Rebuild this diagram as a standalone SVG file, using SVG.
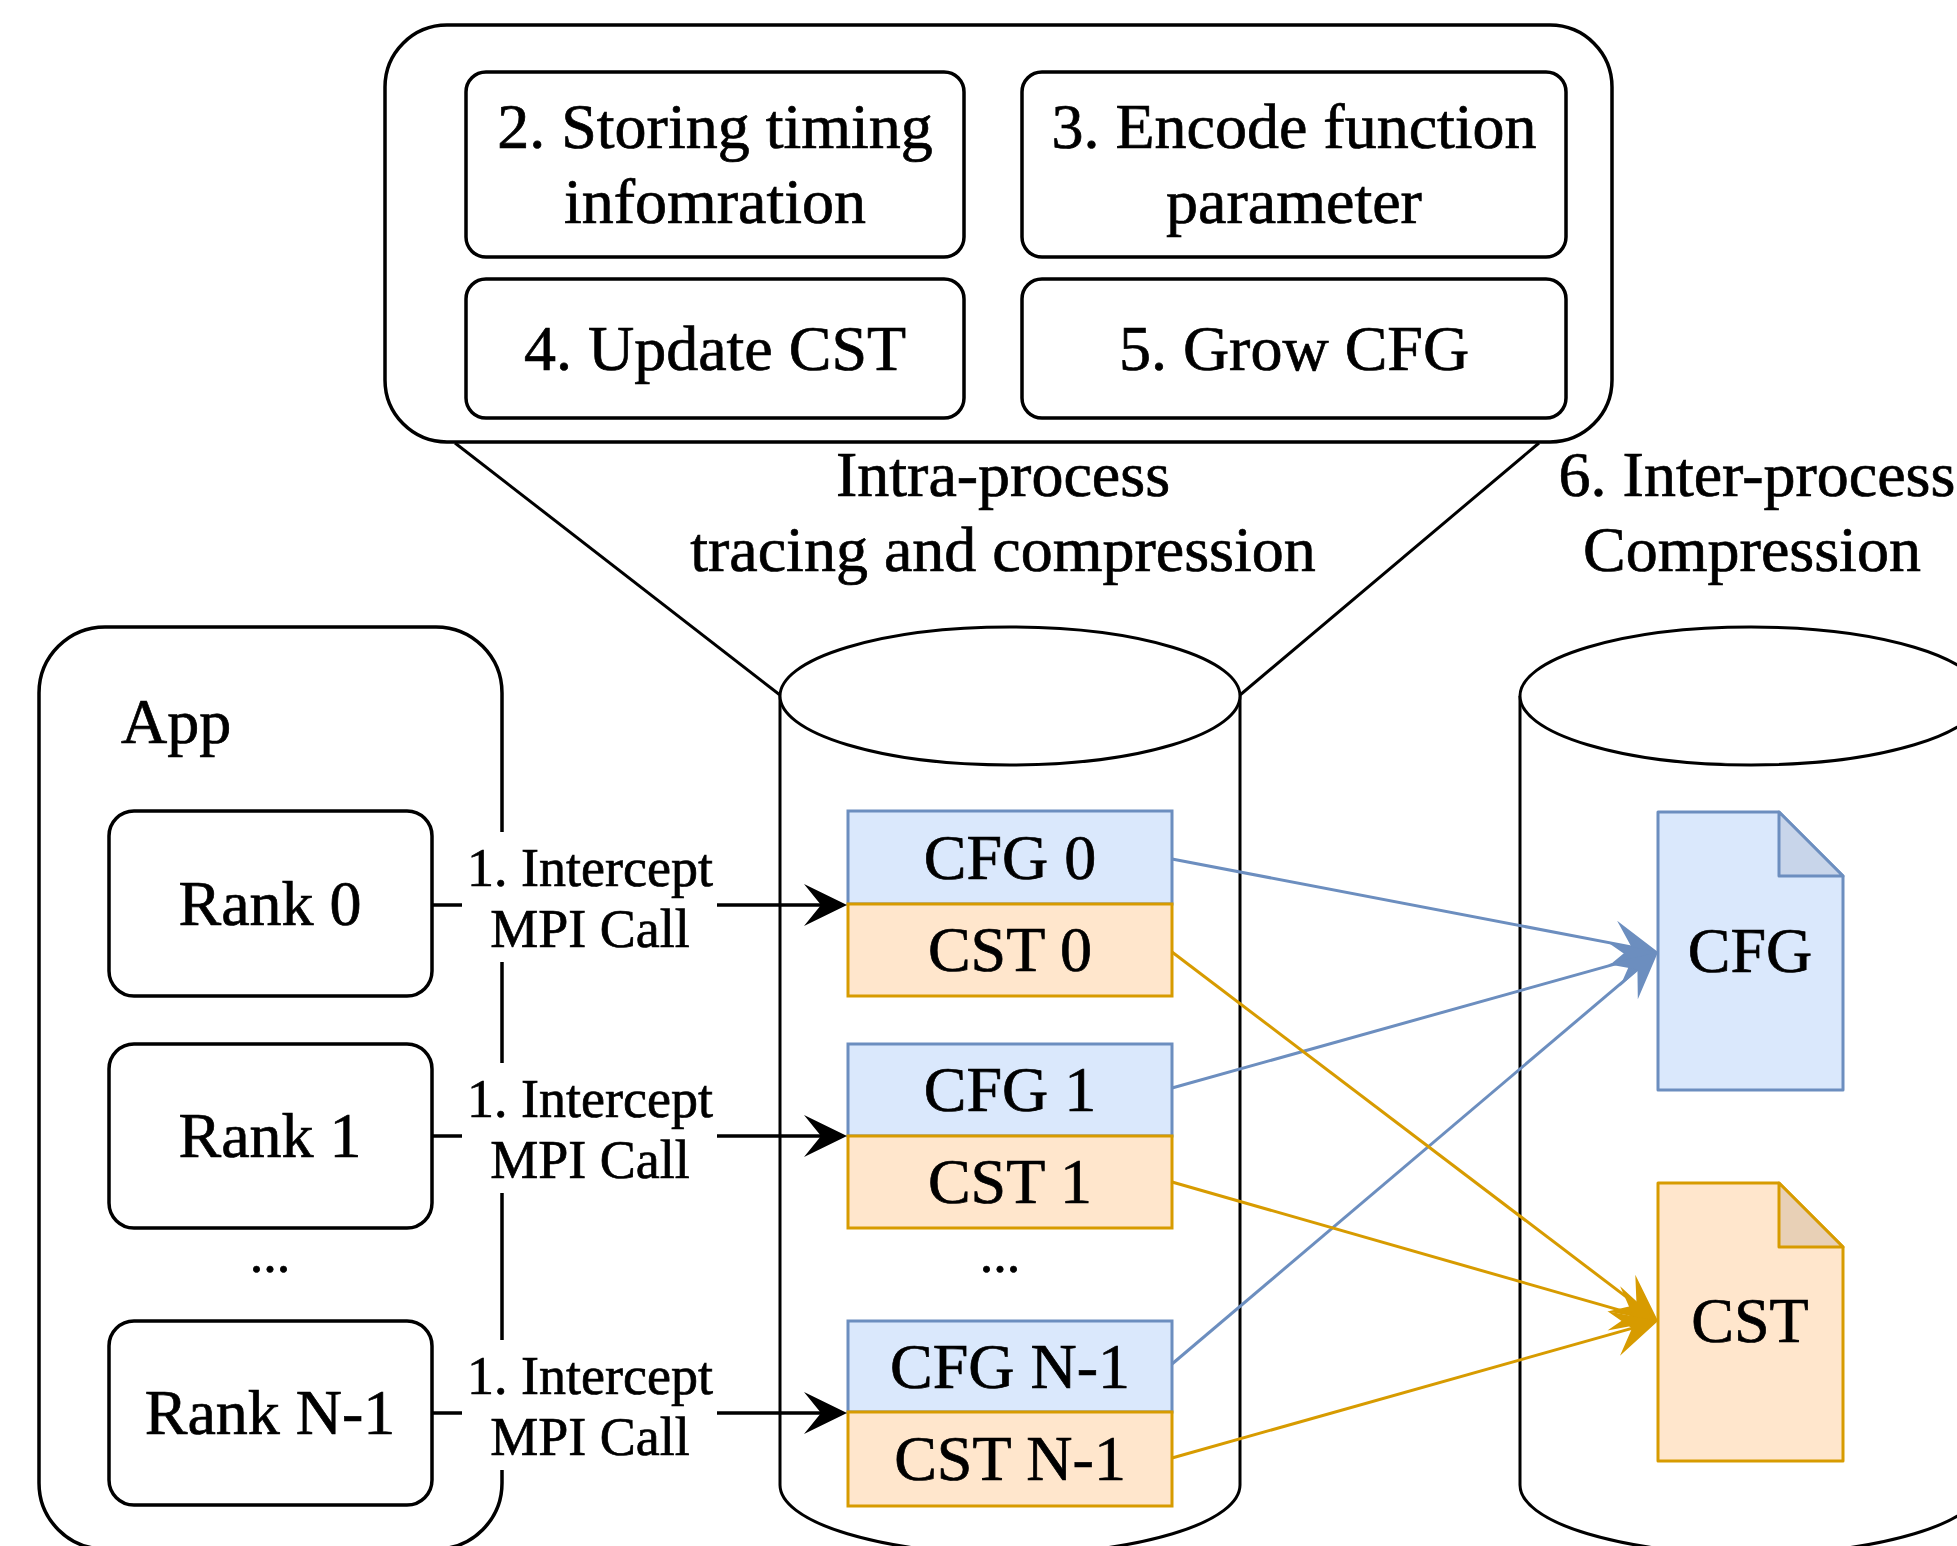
<svg xmlns="http://www.w3.org/2000/svg" width="1957" height="1546" viewBox="0 0 1957 1546">
  <style>
    text { font-family: "Liberation Serif", "Times New Roman", serif; fill: #000; stroke: #000; stroke-width: 0.7; }
    .t64 { font-size: 64px; }
    .t54 { font-size: 54px; }
    .mid { text-anchor: middle; }
    .box { fill: #fff; stroke: #000; stroke-width: 3.5; }
    .cyl { fill: #fff; stroke: #000; stroke-width: 3; }
    .cfg { fill: #dae8fc; stroke: #6c8ebf; stroke-width: 3; }
    .cst { fill: #ffe6cc; stroke: #d79b00; stroke-width: 3; }
    .cfgFold { fill: #c8d5ea; stroke: #6c8ebf; stroke-width: 3; stroke-linejoin: round; }
    .cstFold { fill: #e8d0b6; stroke: #d79b00; stroke-width: 3; stroke-linejoin: round; }
    .lbg { fill: #fff; stroke: none; }
    .call { fill: none; stroke: #000; stroke-width: 3.5; }
    .blue { fill: none; stroke: #6c8ebf; stroke-width: 3; }
    .orange { fill: none; stroke: #d79b00; stroke-width: 3; }
    .zoomline { fill: none; stroke: #000; stroke-width: 3; }
  </style>
  <defs>
    <marker id="arrK" markerUnits="userSpaceOnUse" orient="auto" refX="0" refY="0" markerWidth="60" markerHeight="60" style="overflow:visible">
      <path d="M20,0 L-23,-21 L-6,0 L-23,21 Z" fill="#000"/>
    </marker>
    <marker id="arrB" markerUnits="userSpaceOnUse" orient="auto" refX="0" refY="0" markerWidth="60" markerHeight="60" style="overflow:visible">
      <path d="M18,0 L-28,-23 L-9,0 L-28,23 Z" fill="#6c8ebf"/>
    </marker>
    <marker id="arrO" markerUnits="userSpaceOnUse" orient="auto" refX="0" refY="0" markerWidth="60" markerHeight="60" style="overflow:visible">
      <path d="M18,0 L-28,-23 L-9,0 L-28,23 Z" fill="#d79b00"/>
    </marker>
  </defs>

  <rect width="1957" height="1546" fill="#fff"/>

  <!-- Application with its ranks -->
  <g id="app">
    <rect class="box" x="39" y="627" width="463" height="922" rx="66" ry="66"/>
    <text class="t64" x="121" y="743">App</text>
  </g>
  <g id="rank0">
    <rect class="box" x="109" y="811" width="323" height="185" rx="25" ry="25"/>
    <text class="t64 mid" x="270" y="925">Rank 0</text>
  </g>
  <g id="rank1">
    <rect class="box" x="109" y="1044" width="323" height="184" rx="25" ry="25"/>
    <text class="t64 mid" x="270" y="1157">Rank 1</text>
  </g>
  <g id="rank-dots">
    <text class="t54 mid" x="270" y="1272">...</text>
  </g>
  <g id="rankN1">
    <rect class="box" x="109" y="1321" width="323" height="184" rx="25" ry="25"/>
    <text class="t64 mid" x="270" y="1434">Rank N-1</text>
  </g>

  <!-- Intra-process storage -->
  <g id="intra-db">
    <path class="cyl" d="M780,696 A230,69 0 0 1 1240,696 L1240,1485 A230,69 0 0 1 780,1485 Z"/>
    <path class="cyl" fill="none" d="M780,696 A230,69 0 0 0 1240,696"/>
    <text class="t54 mid" x="1000" y="1272">...</text>
  </g>

  <!-- Inter-process storage -->
  <g id="inter-db">
    <path class="cyl" d="M1520,696 A231,69 0 0 1 1982,696 L1982,1485 A231,69 0 0 1 1520,1485 Z"/>
    <path class="cyl" fill="none" d="M1520,696 A231,69 0 0 0 1982,696"/>
  </g>

  <!-- Per-rank CFG / CST pairs -->
  <g id="cfg0">
    <rect class="cfg" x="848" y="811" width="324" height="93"/>
    <text class="t64 mid" x="1010" y="879">CFG 0</text>
  </g>
  <g id="cst0">
    <rect class="cst" x="848" y="904" width="324" height="92"/>
    <text class="t64 mid" x="1010" y="971">CST 0</text>
  </g>
  <g id="cfg1">
    <rect class="cfg" x="848" y="1044" width="324" height="92"/>
    <text class="t64 mid" x="1010" y="1111">CFG 1</text>
  </g>
  <g id="cst1">
    <rect class="cst" x="848" y="1136" width="324" height="92"/>
    <text class="t64 mid" x="1010" y="1203">CST 1</text>
  </g>
  <g id="cfgN1">
    <rect class="cfg" x="848" y="1321" width="324" height="91"/>
    <text class="t64 mid" x="1010" y="1388">CFG N-1</text>
  </g>
  <g id="cstN1">
    <rect class="cst" x="848" y="1412" width="324" height="94"/>
    <text class="t64 mid" x="1010" y="1480">CST N-1</text>
  </g>

  <!-- Merged documents -->
  <g id="cfg-doc">
    <path class="cfg" stroke-linejoin="round" d="M1658,812 L1779,812 L1843,876 L1843,1090 L1658,1090 Z"/>
    <path class="cfgFold" d="M1779,812 L1779,876 L1843,876 Z"/>
    <text class="t64 mid" x="1750" y="972">CFG</text>
  </g>
  <g id="cst-doc">
    <path class="cst" stroke-linejoin="round" d="M1658,1183 L1779,1183 L1843,1247 L1843,1461 L1658,1461 Z"/>
    <path class="cstFold" d="M1779,1183 L1779,1247 L1843,1247 Z"/>
    <text class="t64 mid" x="1750" y="1342">CST</text>
  </g>

  <!-- Intra-process step callout -->
  <g id="intra-steps">
    <rect class="box" x="385" y="25" width="1227" height="417" rx="62" ry="62"/>
  </g>
  <g id="step2">
    <rect class="box" x="466" y="72" width="498" height="185" rx="20" ry="20"/>
    <text class="t64 mid" x="715" y="148">2. Storing timing</text>
    <text class="t64 mid" x="715" y="223">infomration</text>
  </g>
  <g id="step3">
    <rect class="box" x="1022" y="72" width="544" height="185" rx="20" ry="20"/>
    <text class="t64 mid" x="1294" y="148">3. Encode function</text>
    <text class="t64 mid" x="1294" y="223">parameter</text>
  </g>
  <g id="step4">
    <rect class="box" x="466" y="279" width="498" height="139" rx="20" ry="20"/>
    <text class="t64 mid" x="715" y="370">4. Update CST</text>
  </g>
  <g id="step5">
    <rect class="box" x="1022" y="279" width="544" height="139" rx="20" ry="20"/>
    <text class="t64 mid" x="1294" y="370">5. Grow CFG</text>
  </g>
  <g id="intra-caption">
    <text class="t64 mid" x="1003" y="496">Intra-process</text>
    <text class="t64 mid" x="1003" y="571">tracing and compression</text>
  </g>
  <g id="inter-caption">
    <text class="t64 mid" x="1757" y="496">6. Inter-process</text>
    <text class="t64 mid" x="1752" y="571">Compression</text>
  </g>

  <!-- Connectors -->
  <g id="connectors">
    <!-- callout funnel into the intra-process store -->
    <line class="zoomline" x1="455" y1="443" x2="780" y2="695"/>
    <line class="zoomline" x1="1539" y1="443" x2="1240" y2="695"/>

    <!-- MPI call interception -->
    <line class="call" x1="432" y1="905" x2="827" y2="905" marker-end="url(#arrK)"/>
    <line class="call" x1="432" y1="1136" x2="827" y2="1136" marker-end="url(#arrK)"/>
    <line class="call" stroke-width="2.5" x1="432" y1="1413" x2="827" y2="1413" marker-end="url(#arrK)"/>
    <rect class="lbg" x="462" y="832" width="255" height="130"/>
    <rect class="lbg" x="462" y="1063" width="255" height="130"/>
    <rect class="lbg" x="462" y="1340" width="255" height="130"/>
    <text class="t54 mid" x="590" y="886">1. Intercept</text>
    <text class="t54 mid" x="590" y="947">MPI Call</text>
    <text class="t54 mid" x="590" y="1117">1. Intercept</text>
    <text class="t54 mid" x="590" y="1178">MPI Call</text>
    <text class="t54 mid" x="590" y="1394">1. Intercept</text>
    <text class="t54 mid" x="590" y="1455">MPI Call</text>

    <!-- inter-process merge -->
    <line class="blue" x1="1172" y1="859" x2="1640.3" y2="948.6" marker-end="url(#arrB)"/>
    <line class="blue" x1="1172" y1="1088" x2="1640.7" y2="956.9" marker-end="url(#arrB)"/>
    <line class="blue" x1="1172" y1="1364" x2="1644.3" y2="963.6" marker-end="url(#arrB)"/>
    <line class="orange" x1="1172" y1="952" x2="1643.7" y2="1310.1" marker-end="url(#arrO)"/>
    <line class="orange" x1="1172" y1="1182" x2="1640.7" y2="1316.1" marker-end="url(#arrO)"/>
    <line class="orange" x1="1172" y1="1458" x2="1640.7" y2="1325.9" marker-end="url(#arrO)"/>
  </g>
</svg>
